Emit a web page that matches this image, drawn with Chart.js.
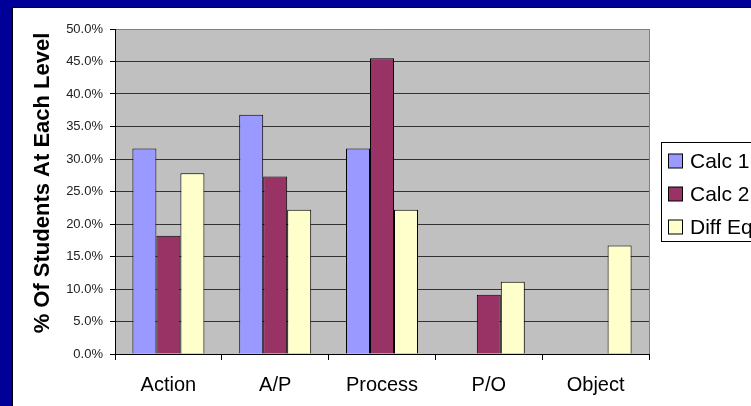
<!DOCTYPE html>
<html>
<head>
<meta charset="utf-8">
<script src="https://cdn.jsdelivr.net/npm/chart.js@4"></script>
<style>
  html, body { margin: 0; padding: 0; }
  body { width: 751px; height: 406px; background: #000099; position: relative; overflow: hidden; }
  #frame { position: absolute; left: 12px; top: 7px; width: 739px; height: 399px;
           border-left: 1px solid #000; border-top: 1px solid #000; background: #fff; }
</style>
</head>
<body>
<div id="frame"><canvas id="chart" width="738" height="398"></canvas></div>
<script>
const categories = ['Action', 'A/P', 'Process', 'P/O', 'Object'];
const seriesNames = ['Calc 1', 'Calc 2', 'Diff Eq'];
const calc1 = [31.6, 36.8, 31.6, 0, 0];
const calc2 = [18.2, 27.3, 45.5, 9.1, 0];
const diffEq = [27.8, 22.2, 22.2, 11.1, 16.7];
const colors = ['#9999FF', '#993366', '#FFFFCC'];
const yTitle = '% Of Students At Each Level';

const font = "'Liberation Sans', Arial, sans-serif";

// grey plot area + right border
const plotBg = {
  id: 'plotBg',
  beforeDraw(chart) {
    const { ctx, chartArea: a } = chart;
    ctx.save();
    ctx.fillStyle = '#C0C0C0';
    ctx.fillRect(a.left, a.top, a.right - a.left, a.bottom - a.top);
    ctx.strokeStyle = '#808080';
    ctx.lineWidth = 1;
    ctx.beginPath();
    ctx.moveTo(a.right + 0.5, a.top);
    ctx.lineTo(a.right + 0.5, a.bottom);
    ctx.stroke();
    ctx.restore();
  }
};

// rotated y title, sits a little above the plot's middle like the original
const sideTitle = {
  id: 'sideTitle',
  afterDraw(chart) {
    const ctx = chart.ctx;
    ctx.save();
    ctx.translate(30, 175);
    ctx.rotate(-Math.PI / 2);
    ctx.font = 'bold 22px ' + font;
    ctx.fillStyle = '#000';
    ctx.textAlign = 'center';
    ctx.textBaseline = 'middle';
    ctx.fillText(yTitle, 0, 0);
    ctx.restore();
  }
};

// legend box on the right, cut by the page edge like the original
const boxLegend = {
  id: 'boxLegend',
  afterDraw(chart) {
    const ctx = chart.ctx;
    const x = 648, y = 134, w = 130, h = 99;
    ctx.save();
    ctx.fillStyle = '#fff';
    ctx.fillRect(x, y, w, h);
    ctx.strokeStyle = '#000';
    ctx.lineWidth = 1;
    ctx.strokeRect(x + 0.5, y + 0.5, w, h);
    ctx.font = '21px ' + font;
    ctx.textBaseline = 'middle';
    chart.data.datasets.forEach((ds, i) => {
      const cy = 153 + i * 33;
      ctx.fillStyle = ds.backgroundColor;
      ctx.fillRect(655.5, cy - 7, 14, 14);
      ctx.strokeRect(655.5, cy - 7, 14, 14);
      ctx.fillStyle = '#000';
      ctx.fillText(ds.label, 677, cy + 1);
    });
    ctx.restore();
  }
};

new Chart(document.getElementById('chart'), {
  type: 'bar',
  data: {
    labels: categories,
    datasets: [calc1, calc2, diffEq].map((d, i) => ({
      label: seriesNames[i],
      data: d,
      backgroundColor: colors[i],
      borderColor: '#000',
      borderWidth: 1,
      barPercentage: 1,
      categoryPercentage: 0.674
    }))
  },
  options: {
    responsive: false,
    animation: false,
    layout: { padding: { top: 21, right: 102, left: 0, bottom: 0 } },
    plugins: { legend: { display: false }, tooltip: { enabled: false } },
    scales: {
      x: {
        afterFit: s => { s.height = 52; },
        grid: { drawOnChartArea: false, drawTicks: true, tickLength: 6, color: '#000' },
        border: { color: '#000', width: 1 },
        ticks: { color: '#000', font: { family: font, size: 20 }, padding: 13 }
      },
      y: {
        min: 0,
        max: 50,
        afterFit: s => { s.width = 102; },
        ticks: {
          stepSize: 5,
          color: '#222',
          font: { family: font, size: 13 },
          padding: 7,
          callback: v => v.toFixed(1) + '%'
        },
        grid: {
          color: c => c.index === 10 ? '#808080' : '#333',
          tickColor: '#000',
          tickLength: 5
        },
        border: { color: '#000', width: 1 }
      }
    }
  },
  plugins: [plotBg, sideTitle, boxLegend]
});
</script>
</body>
</html>
